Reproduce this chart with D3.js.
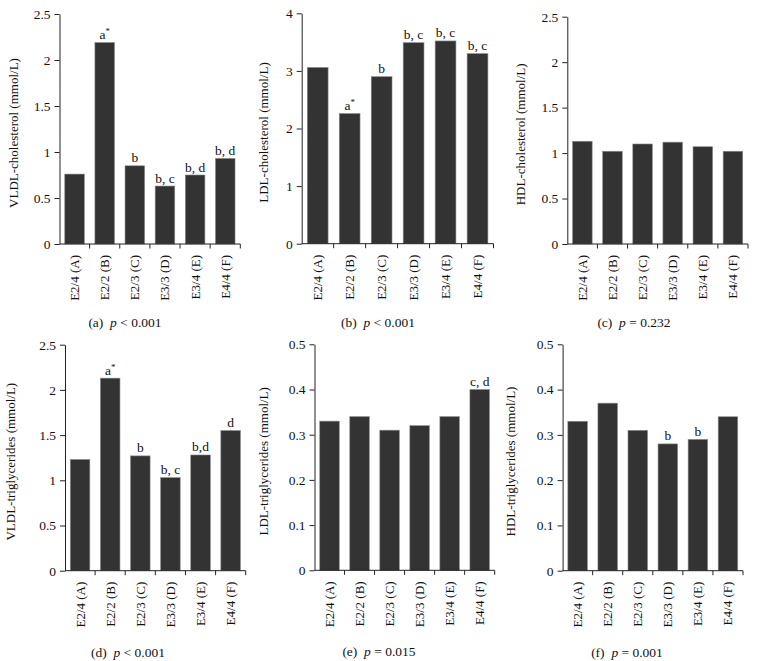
<!DOCTYPE html>
<html><head><meta charset="utf-8">
<script src="https://cdn.jsdelivr.net/npm/d3@7"></script>
<style>
body{margin:0;background:#fff;}
svg{display:block;font-family:"Liberation Serif","DejaVu Serif",serif;}
</style></head>
<body><svg id="c" width="757" height="661"></svg>
<script>
const categories = ["E2/4 (A)","E2/2 (B)","E2/3 (C)","E3/3 (D)","E3/4 (E)","E4/4 (F)"];

const vldlChol = [0.76, 2.19, 0.85, 0.63, 0.75, 0.93];
const ldlChol  = [3.06, 2.26, 2.90, 3.49, 3.52, 3.30];
const hdlChol  = [1.13, 1.02, 1.10, 1.12, 1.07, 1.02];
const vldlTg   = [1.23, 2.13, 1.27, 1.03, 1.28, 1.55];
const ldlTg    = [0.33, 0.34, 0.31, 0.32, 0.34, 0.40];
const hdlTg    = [0.33, 0.37, 0.31, 0.28, 0.29, 0.34];

const vldlCholSig = ["", "a*", "b", "b, c", "b, d", "b, d"];
const ldlCholSig  = ["", "a*", "b", "b, c", "b, c", "b, c"];
const hdlCholSig  = ["", "", "", "", "", ""];
const vldlTgSig   = ["", "a*", "b", "b, c", "b,d", "d"];
const ldlTgSig    = ["", "", "", "", "", "c, d"];
const hdlTgSig    = ["", "", "", "b", "b", ""];

const ticks25 = [0, 0.5, 1, 1.5, 2, 2.5];
const ticks4  = [0, 1, 2, 3, 4];
const ticks05 = [0, 0.1, 0.2, 0.3, 0.4, 0.5];

const titles = ["VLDL-cholesterol (mmol/L)","LDL-cholesterol (mmol/L)","HDL-cholesterol (mmol/L)",
                "VLDL-triglycerides (mmol/L)","LDL-triglycerides (mmol/L)","HDL-triglycerides (mmol/L)"];
const captionLetters = ["(a)","(b)","(c)","(d)","(e)","(f)"];
const captionTests = ["< 0.001","< 0.001","= 0.232","< 0.001","= 0.015","= 0.001"];

// layout (positions only)
const panels = [
  {vals: vldlChol, sig: vldlCholSig, ticks: ticks25, x0: 59.5, x1: 240.3, yT: 14,   yB: 244,   tx: 15,  cx: 125, cap: 83},
  {vals: ldlChol,  sig: ldlCholSig,  ticks: ticks4,  x0: 301.7,x1: 493.5, yT: 13.3, yB: 243.7, tx: 265, cx: 378, cap: 83},
  {vals: hdlChol,  sig: hdlCholSig,  ticks: ticks25, x0: 567.3,x1: 748,   yT: 16.7, yB: 244,   tx: 522, cx: 634, cap: 83},
  {vals: vldlTg,   sig: vldlTgSig,   ticks: ticks25, x0: 65,   x1: 245.7, yT: 344.7,yB: 570.7, tx: 12,  cx: 128, cap: 86},
  {vals: ldlTg,    sig: ldlTgSig,    ticks: ticks05, x0: 314.5,x1: 494.7, yT: 344.3,yB: 570.3, tx: 265, cx: 379, cap: 86},
  {vals: hdlTg,    sig: hdlTgSig,    ticks: ticks05, x0: 562.6,x1: 743,   yT: 344.3,yB: 570.7, tx: 512, cx: 627, cap: 86}
];

const svg = d3.select("#c");
const fs = 13;
const ink = "#111";

panels.forEach((p, i) => {
  const g = svg.append("g");
  const x = d3.scaleBand().domain(categories).range([p.x0, p.x1]).paddingInner(0.35).paddingOuter(0.175);
  const y = d3.scaleLinear().domain([0, p.ticks[p.ticks.length-1]]).range([p.yB, p.yT]);

  // bars
  g.selectAll("rect.bar").data(p.vals).join("rect")
    .attr("x", (d, j) => x(categories[j]))
    .attr("y", d => y(d))
    .attr("width", x.bandwidth())
    .attr("height", d => p.yB - y(d))
    .attr("fill", "#333333")
    .attr("stroke", "#8a8a8a")
    .attr("stroke-width", 0.6);

  // y axis
  const ya = g.append("g").attr("transform", `translate(${p.x0},0)`)
    .call(d3.axisLeft(y).tickValues(p.ticks).tickFormat(d => String(d)).tickSize(5).tickPadding(4).tickSizeOuter(0));
  ya.select(".domain").attr("stroke", "#222").attr("stroke-width", 1);
  ya.selectAll(".tick line").attr("stroke", "#222");
  ya.selectAll("text").attr("font-size", 13.5).attr("fill", ink).attr("font-family", "Liberation Serif, serif");

  // x axis with boundary ticks
  const xa = g.append("g").attr("transform", `translate(0,${p.yB})`);
  xa.append("line").attr("x1", p.x0).attr("x2", p.x1).attr("y1", 0).attr("y2", 0).attr("stroke", "#222");
  const edges = categories.map((c, j) => p.x0 + (j + 1) * (p.x1 - p.x0) / categories.length);
  xa.selectAll("line.t").data(edges).join("line").attr("class","t")
    .attr("x1", d => d).attr("x2", d => d).attr("y1", 0).attr("y2", 4.5).attr("stroke", "#222");
  xa.selectAll("text.cat").data(categories).join("text").attr("class","cat")
    .attr("transform", d => `translate(${x(d) + x.bandwidth()/2 + 4.5},11) rotate(-90)`)
    .attr("text-anchor", "end")
    .attr("font-size", fs).attr("fill", ink)
    .text(d => d);

  // significance labels
  g.selectAll("text.sig").data(p.vals).join("text").attr("class","sig")
    .attr("x", (d, j) => x(categories[j]) + x.bandwidth()/2)
    .attr("y", d => y(d) - 3.5)
    .attr("text-anchor", "middle")
    .attr("font-size", 13.5).attr("fill", ink)
    .each(function(d, j) {
      const s = p.sig[j];
      const t = d3.select(this);
      if (s.endsWith("*")) {
        t.append("tspan").text(s.slice(0, -1));
        t.append("tspan").attr("dy", -5).attr("font-size", 9).text("*");
      } else t.text(s);
    });

  // y title
  g.append("text")
    .attr("transform", `translate(${p.tx},${(p.yT + p.yB)/2 + 4}) rotate(-90)`)
    .attr("text-anchor", "middle").attr("dominant-baseline", "middle")
    .attr("font-size", fs).attr("fill", ink)
    .text(titles[i]);

  // caption
  const cy = p.yB + p.cap;
  const cap = g.append("text").attr("x", p.cx).attr("y", cy).attr("text-anchor", "middle")
    .attr("font-size", 13.5).attr("fill", ink);
  cap.append("tspan").text(captionLetters[i] + "\u00a0\u00a0");
  cap.append("tspan").attr("font-style", "italic").text("p");
  cap.append("tspan").text(" " + captionTests[i]);
});
</script></body></html>
